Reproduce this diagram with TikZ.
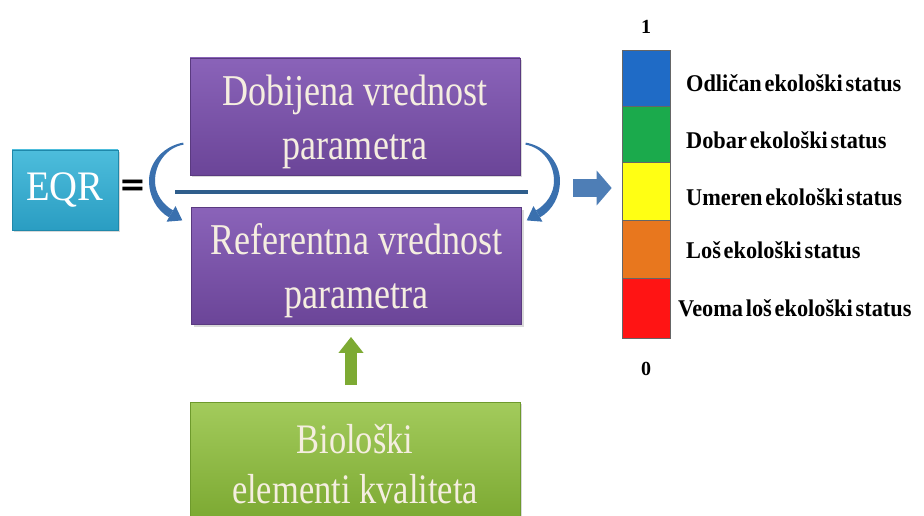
\documentclass[tikz,border=0pt]{standalone}
\usepackage{fontspec}
\setmainfont{Liberation Serif}
\newfontfamily\boxfont[FakeStretch=0.82]{Liberation Serif}
\newfontfamily\eqrfont[FakeStretch=0.92]{Liberation Serif}
\newfontfamily\labfont[FakeStretch=0.93,WordSpace=0.5]{Liberation Serif}
\newfontfamily\eqfont{DejaVu Sans}
\usetikzlibrary{arrows.meta,shadows}
\definecolor{purpleT}{HTML}{8A63B9}
\definecolor{purpleB}{HTML}{6B4598}
\definecolor{purpleD}{HTML}{5A3A80}
\definecolor{tealT}{HTML}{4DBDDC}
\definecolor{tealB}{HTML}{2A9DC2}
\definecolor{tealD}{HTML}{1F88AA}
\definecolor{greenT}{HTML}{A3CB5C}
\definecolor{greenB}{HTML}{7DAA33}
\definecolor{greenD}{HTML}{6E9A2C}
\definecolor{arcblue}{HTML}{3A70AE}
\definecolor{lineblue}{HTML}{2F5E8C}
\definecolor{cream}{HTML}{F5EEE0}
\definecolor{barblue}{HTML}{1F6BC6}
\definecolor{bargreen}{HTML}{1BAA4C}
\definecolor{baryellow}{HTML}{FFFF14}
\definecolor{barorange}{HTML}{E8771E}
\definecolor{barred}{HTML}{FF1414}
\tikzset{
  basebox/.style={line width=0.8pt, inner sep=0pt,
    drop shadow={opacity=0.3,shadow xshift=2pt,shadow yshift=-2pt}},
  purplebox/.style={basebox, draw=purpleD, top color=purpleT, bottom color=purpleB,
    minimum width=330pt, minimum height=117pt},
  boxtext/.style={align=center, inner sep=0pt, text=cream,
    font=\boxfont\fontsize{44}{54}\selectfont},
  greenbox/.style={basebox, draw=greenD, top color=greenT, bottom color=greenB,
    minimum width=330pt, minimum height=114pt},
  greentext/.style={align=center, inner sep=0pt, text=cream,
    font=\boxfont\fontsize{42}{50}\selectfont},
  eqrbox/.style={basebox, draw=tealD, top color=tealT, bottom color=tealB,
    minimum width=106pt, minimum height=80pt, text=white,
    font=\eqrfont\fontsize{42}{50}\selectfont},
  seg/.style={draw=black!60, line width=0.6pt, minimum width=48pt, inner sep=0pt},
  statlab/.style={anchor=west, inner sep=0pt, text=black,
    font=\labfont\bfseries\fontsize{24}{28}\selectfont},
  endlab/.style={inner sep=0pt, font=\bfseries\fontsize{20}{24}\selectfont},
}
\begin{document}
\begin{tikzpicture}[x=1pt,y=-1pt]
\useasboundingbox (0,0) rectangle (924,516);
% main boxes
\node[eqrbox] (eqr) at (65,190) {EQR};
\node[inner sep=0pt, font=\eqfont\bfseries\fontsize{32}{36}\selectfont] (eq) at (133,188) {=};
\node[purplebox] (top) at (355,116.5) {};
\node[boxtext] (toptext) at ([yshift=-5pt]top.center) {Dobijena vrednost\\parametra};
\node[purplebox] (bot) at (356.5,266) {};
\node[boxtext] (bottext) at ([yshift=-5pt]bot.center) {Referentna vrednost\\parametra};
\node[greenbox] (bio) at (355,459) {};
\node[greentext] (biotext) at ([yshift=-5pt]bio.center) {Biološki\\elementi kvaliteta};
% fraction line
\coordinate (fl1) at (175,192);
\coordinate (fl2) at (528,192);
\draw[lineblue, line width=3.5pt] (fl1) -- (fl2);
% curved tapered arrows
\fill[arcblue] (183.2,142.6) .. controls (164.6,145.9) and (149,161.1) .. (149,181)
  .. controls (149,195.8) and (156.2,210) .. (169,217.4)
  -- (173,210.4) .. controls (162.6,204.4) and (155,193.5) .. (155,181)
  .. controls (155,163.5) and (166.4,147.6) .. (183.6,144.6) -- cycle;
\fill[arcblue] (175.5,206.1) -- (182.3,220.4) -- (166.5,221.7) -- cycle;
\fill[arcblue] (525.8,142.6) .. controls (544.4,145.9) and (560,161.1) .. (560,181)
  .. controls (560,195.8) and (552.8,210) .. (540,217.4)
  -- (536,210.4) .. controls (546.4,204.4) and (554,193.5) .. (554,181)
  .. controls (554,163.5) and (542.6,147.6) .. (525.4,144.6) -- cycle;
\fill[arcblue] (533.5,206.1) -- (526.7,220.4) -- (542.5,221.7) -- cycle;
% status bar
\node[seg, fill=barblue, minimum height=56pt] (s1) at (646,78) {};
\node[seg, fill=bargreen, minimum height=56pt] (s2) at (646,134) {};
\node[seg, fill=baryellow, minimum height=58pt] (s3) at (646,191) {};
\node[seg, fill=barorange, minimum height=58pt] (s4) at (646,249) {};
\node[seg, fill=barred, minimum height=60pt] (s5) at (646,308) {};
\node[endlab] (one) at (646,27) {1};
\node[endlab] (zero) at (646,369) {0};
\node[statlab] (l1) at (686,83) {Odličan ekološki status};
\node[statlab] (l2) at (686,140) {Dobar ekološki status};
\node[statlab] (l3) at (686,197) {Umeren ekološki status};
\node[statlab] (l4) at (686,250) {Loš ekološki status};
\node[statlab] (l5) at (678,308) {Veoma loš ekološki status};
% block arrows
\coordinate (ba) at (573,188);
\draw[arcblue!90!white, line width=17pt, shorten >=10pt,
  -{Triangle[length=15pt,width=34pt]}] (ba) -- (ba -| s3.west);
\coordinate (ga) at (351,385);
\draw[greenB, line width=12pt, shorten >=12pt,
  -{Triangle[length=16pt,width=24pt]}] (ga) -- (ga |- bot.south);
\end{tikzpicture}
\end{document}
